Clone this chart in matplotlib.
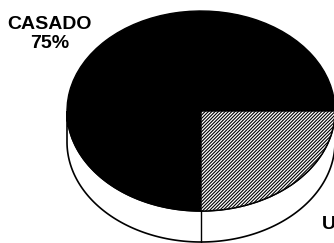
import numpy as np
import matplotlib.pyplot as plt
from matplotlib.patches import Wedge, Polygon
from matplotlib.transforms import Affine2D

# data
labels = ["CASADO", "UNIÃO"]
values = [75, 25]
colors = ["black", "white"]
hatches = [None, "//////////"]

plt.rcParams["font.family"] = ["Liberation Sans", "DejaVu Sans"]
plt.rcParams["hatch.linewidth"] = 0.8

fig = plt.figure(figsize=(3.34, 2.43), dpi=100)
ax = fig.add_axes([0, 0, 1, 1])
ax.set_xlim(0, 334)
ax.set_ylim(0, 243)
ax.set_axis_off()

cx, cy, rx, ry, depth = 201, 132, 134, 100, 31

# side of the 3d pie (front half)
t = np.radians(np.linspace(180, 360, 200))
top = np.column_stack([cx + rx * np.cos(t), cy + ry * np.sin(t)])
bot = top[::-1] - [0, depth]
ax.add_patch(Polygon(np.vstack([top, bot]), closed=True, facecolor="white",
                     edgecolor="black", lw=1.2))

# top face: wedges on unit circle, stretched to the ellipse
tr = Affine2D().scale(rx, ry).translate(cx, cy) + ax.transData
fracs = np.array(values) / sum(values) * 360
start = 0
for v, c, h in zip(fracs, colors, hatches):
    ax.add_patch(Wedge((0, 0), 1, start, start + v, facecolor=c, edgecolor="black",
                       hatch=h, lw=1.0, transform=tr))
    # wedge boundary drawn down the side if it is on the front
    a = np.radians(start + v)
    if np.sin(a) < 0:
        x0 = cx + rx * np.cos(a)
        y0 = cy + ry * np.sin(a)
        ax.plot([x0, x0], [y0, y0 - depth], color="black", lw=1.0)
    start += v

ax.text(50, 209, f"{labels[0]}\n{values[0]}%", ha="center", va="center",
        fontsize=14, fontweight="bold", linespacing=1.1)
# second label runs off the right edge, as in the original
ax.text(322, 19, labels[1], ha="left", va="center",
        fontsize=14, fontweight="bold")

fig.savefig("out.png", dpi=100)
